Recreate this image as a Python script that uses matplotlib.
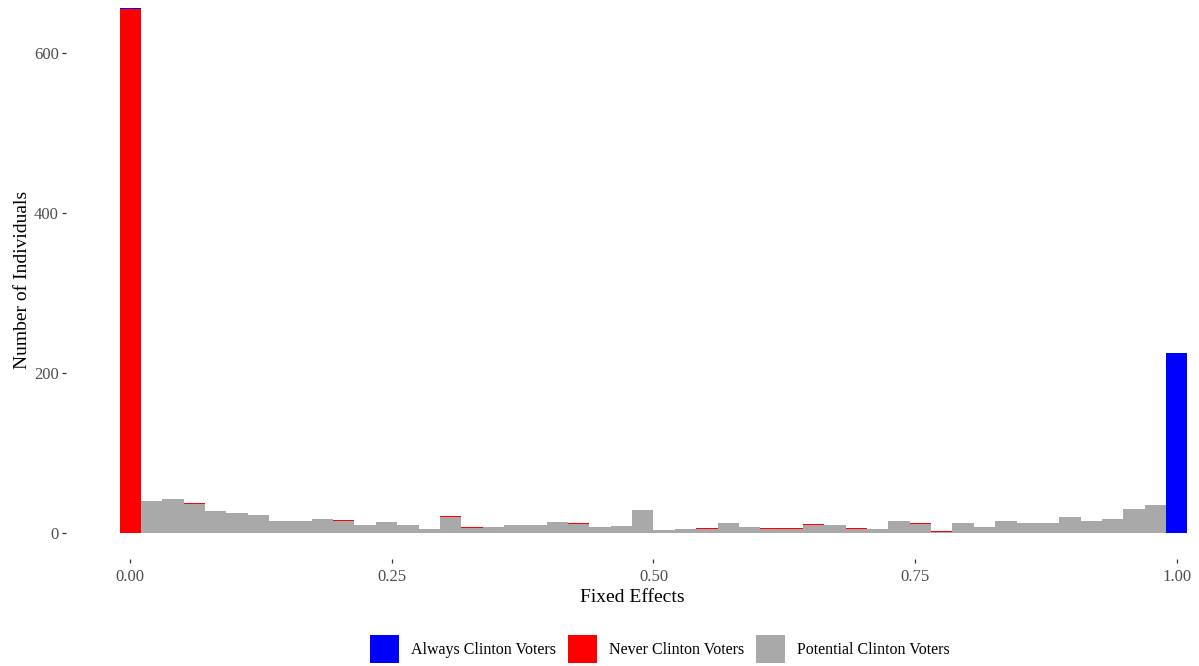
import numpy as np
import matplotlib
matplotlib.use("Agg")
import matplotlib.pyplot as plt
from matplotlib.patches import Patch

plt.rcParams['font.family'] = ['Liberation Serif', 'DejaVu Serif']

# Histogram of estimated fixed effects, 50 bins centred on k/49 (k = 0..49)
n_bins = 50
bin_centers = np.arange(n_bins) / (n_bins - 1)
bin_width = 1.0 / (n_bins - 1)

potential_counts = [1, 40, 43, 37, 28, 25, 23, 15, 15, 18,
                    16, 10, 14, 10, 5, 21, 7, 8, 11, 11,
                    14, 12, 8, 9, 29, 4, 5, 6, 13, 8,
                    6, 6, 11, 10, 6, 5, 16, 12, 2, 13,
                    8, 15, 13, 13, 20, 15, 18, 30, 35, 1]
never_counts = [654, 0, 0, 1, 0, 0, 0, 0, 0, 0,
                1, 0, 0, 1, 1, 1, 1, 0, 0, 0,
                0, 1, 0, 0, 0, 0, 0, 1, 0, 0,
                1, 1, 1, 0, 1, 0, 0, 1, 1, 0,
                0, 1, 0, 0, 0, 1, 0, 1, 1, 0]
always_counts = [2] + [0] * 48 + [225]

group_labels = ["Always Clinton Voters", "Never Clinton Voters", "Potential Clinton Voters"]
group_colors = ["#0000FF", "#FF0000", "#A9A9A9"]

W, H = 1199, 666
fig = plt.figure(figsize=(W / 100, H / 100), dpi=100)
ax = fig.add_axes([66 / W, 107 / H, 1 - 66 / W, 1 - 107 / H])

pot = np.array(potential_counts, dtype=float)
nev = np.array(never_counts, dtype=float)
alw = np.array(always_counts, dtype=float)

# stacked: potential at the bottom, never in the middle, always on top
ax.bar(bin_centers, pot, width=bin_width, color=group_colors[2], linewidth=0)
ax.bar(bin_centers, nev, width=bin_width, bottom=pot, color=group_colors[1], linewidth=0)
ax.bar(bin_centers, alw, width=bin_width, bottom=pot + nev, color=group_colors[0], linewidth=0)

ax.set_xlim(-0.0614, 1.0213)
ax.set_ylim(-32.1, 666.6)

for s in ax.spines.values():
    s.set_visible(False)

ax.set_xticks([0, 0.25, 0.5, 0.75, 1.0])
ax.set_xticklabels(["0.00", "0.25", "0.50", "0.75", "1.00"])
ax.set_yticks([0, 200, 400, 600])
ax.tick_params(axis='both', length=2.9, width=0.9, color='#333333',
               labelcolor='#4D4D4D', labelsize=12)
ax.tick_params(axis='x', pad=4.2)
ax.tick_params(axis='y', pad=2.2)

ax.set_xlabel("Fixed Effects", fontsize=14, color='black', labelpad=3)
ax.set_ylabel("Number of Individuals", fontsize=14, color='black', labelpad=2.5)

handles = [Patch(facecolor=c, edgecolor='none') for c in group_colors]
fig.legend(handles, group_labels, loc='center', bbox_to_anchor=(660 / W, 1 - 649 / H),
           ncol=3, frameon=False, fontsize=11.5, handlelength=1.81, handleheight=2.32,
           handletextpad=0.75, columnspacing=0.75, borderaxespad=0, borderpad=0)

fig.savefig("out.png", dpi=100)
